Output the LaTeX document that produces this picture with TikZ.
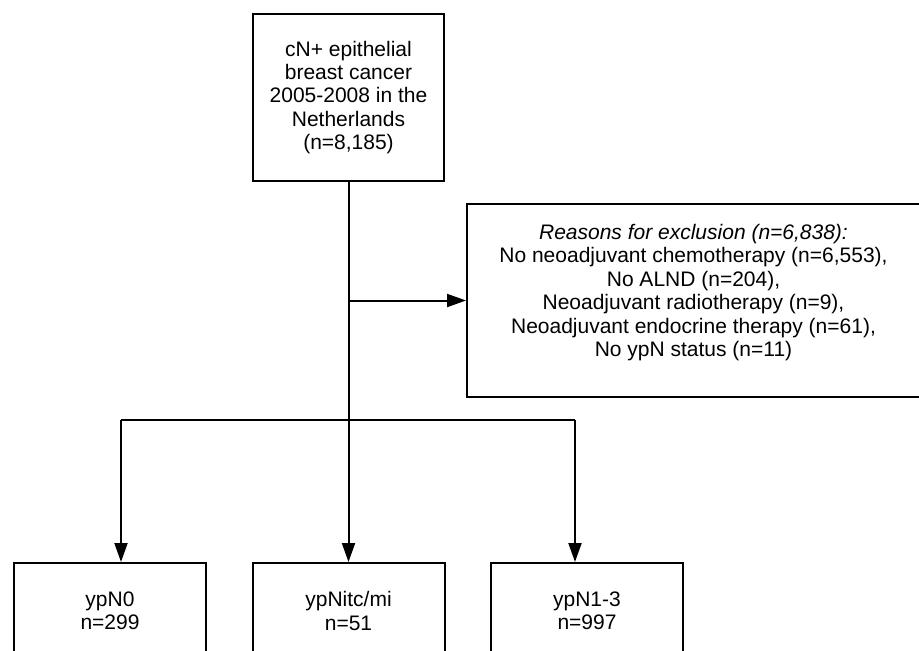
\documentclass[tikz,border=0pt]{standalone}
\usepackage{fontspec}
\setmainfont{Liberation Sans}
\usetikzlibrary{arrows.meta}

\begin{document}
\begin{tikzpicture}[x=1pt, y=-1pt,
    box/.style = {draw, line width = 2pt, align = center, inner sep = 0pt,
                  font = \fontsize{21}{23.4}\selectfont},
    arr/.style = {line width = 2pt, -{Triangle[length = 19pt, width = 13pt]}}]
  \useasboundingbox (0, 0) rectangle (919, 651);

  \node[box, minimum width = 191, minimum height = 167] (start) at (348.5, 97.5)
    {cN+ epithelial\\ breast cancer\\ 2005-2008 in the\\ Netherlands\\ (n=8,185)};
  \node[box, minimum width = 453, minimum height = 193] (excl) at (693.5, 300.5)
    {\itshape Reasons for exclusion (n=6,838):\\
     No neoadjuvant chemotherapy (n=6,553),\\
     No ALND (n=204),\\
     Neoadjuvant radiotherapy (n=9),\\
     Neoadjuvant endocrine therapy (n=61),\\
     No ypN status (n=11)\\[-3pt]\mbox{}};

  \node[box, minimum width = 192, minimum height = 96] (n0) at (110, 611) {ypN0\\ n=299};
  \node[box, minimum width = 192, minimum height = 96] (nitc) at (348.5, 611) {ypNitc/mi\\ n=51};
  \node[box, minimum width = 192, minimum height = 96] (n13) at (587, 611) {ypN1-3\\ n=997};

  % branch to the three ypN groups
  \coordinate (brl) at (121, 420);
  \coordinate (brr) at (575, 420);

  \draw[arr] (start.south) -- (nitc.north);
  \draw[arr] (start.south |- excl.west) -- (excl.west);
  \draw[line width = 2pt] (brl) -- (brr);
  \draw[arr] (brl) -- (brl |- n0.north);
  \draw[arr] (brr) -- (brr |- n13.north);
\end{tikzpicture}
\end{document}
